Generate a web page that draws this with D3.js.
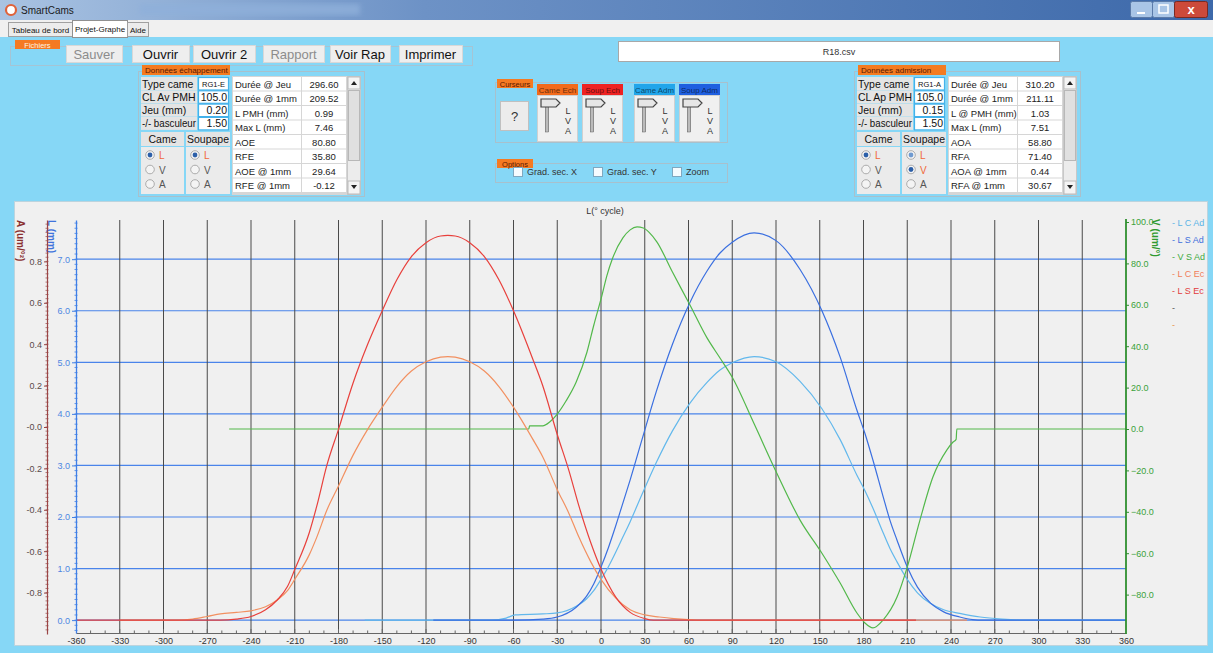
<!DOCTYPE html>
<html><head><meta charset="utf-8">
<script src="https://cdn.jsdelivr.net/npm/d3@7"></script>
<style>
body{margin:0;width:1213px;height:653px;overflow:hidden;background:#86d7f6}
svg{display:block}
text{font-family:"Liberation Sans",Arial,sans-serif}
</style></head><body>
<script>
// ---------------- DATA ----------------
const xTicks = [-360,-330,-300,-270,-240,-210,-180,-150,-120,-90,-60,-30,0,30,60,90,120,150,180,210,240,270,300,330,360];
const lTicks = [0,1,2,3,4,5,6,7];
const aTicks = [0.8,0.6,0.4,0.2,0,-0.2,-0.4,-0.6,-0.8];
const aTickLabels = ["0.8","0.6","0.4","0.2","-0.0","-0.2","-0.4","-0.6","-0.8"];
const vTicks = [100,80,60,40,20,0,-20,-40,-60,-80];

const seriesNames = ["L C Ad","L S Ad","V S Ad","L C Ec","L S Ec"];

// L S Ec : exhaust valve lift (mm)
const lsEc = [[-360,0],[-261,0],[-250,0.02],[-240,0.07],[-230,0.2],[-222,0.39],[-215,0.65],[-210,0.98],[-200,1.7],[-195,2.2],[-188,3.0],[-180,3.7],[-170,4.6],[-160,5.35],[-150,6.0],[-140,6.6],[-130,7.05],[-120,7.32],[-110,7.45],[-105,7.46],[-100,7.45],[-90,7.32],[-80,7.05],[-70,6.6],[-60,6.0],[-47,5.08],[-40,4.55],[-30,3.6],[-22,2.9],[-15,2.2],[-7,1.5],[0,0.99],[10,0.45],[20,0.15],[30,0.03],[36,0],[216,0]];
// L C Ec : exhaust cam lift (mm)
const lcEc = [[-330,0],[-290,0],[-280,0.02],[-270,0.07],[-261,0.12],[-250,0.15],[-240,0.18],[-230,0.26],[-222,0.39],[-215,0.57],[-210,0.79],[-200,1.27],[-195,1.6],[-188,2.13],[-180,2.6],[-170,3.2],[-160,3.7],[-150,4.13],[-140,4.53],[-130,4.83],[-120,5.01],[-110,5.1],[-105,5.11],[-100,5.1],[-90,5.01],[-80,4.83],[-70,4.53],[-60,4.13],[-47,3.52],[-40,3.17],[-30,2.53],[-22,2.07],[-15,1.6],[-7,1.13],[0,0.79],[10,0.43],[20,0.2],[30,0.1],[40,0.06],[50,0.03],[60,0.01],[70,0],[251,0]];
// L S Ad : intake valve lift (mm)
const lsAd = [[-115,0],[-58.8,0],[-40,0.02],[-30,0.06],[-17,0.25],[-10,0.46],[-5,0.7],[0,1.03],[5,1.4],[10,1.82],[15,2.27],[20,2.72],[28,3.49],[38,4.44],[49,5.35],[61,6.16],[72.7,6.77],[81.6,7.12],[90,7.33],[105,7.51],[120,7.36],[136.5,6.8],[151.5,6.0],[164,5.1],[175.5,4.07],[181,3.62],[186.5,3.1],[193.4,2.4],[198,1.95],[203,1.55],[210,1.03],[217,0.64],[226,0.33],[235,0.16],[246,0.06],[255,0.01],[262,0],[360,0]];
// L C Ad : intake cam lift (mm)
const lcAd = [[-162,0],[-75,0],[-65,0.04],[-58.8,0.1],[-40,0.12],[-30,0.14],[-17,0.27],[-10,0.41],[-5,0.57],[0,0.79],[5,1.03],[10,1.31],[15,1.61],[20,1.91],[28,2.43],[38,3.06],[49,3.67],[61,4.21],[72.7,4.61],[81.6,4.85],[90,4.99],[105,5.11],[120,5.01],[136.5,4.63],[151.5,4.1],[164,3.5],[175.5,2.81],[181,2.51],[186.5,2.17],[193.4,1.7],[198,1.4],[203,1.13],[210,0.79],[217,0.53],[226,0.32],[235,0.2],[246,0.13],[260,0.06],[275,0.02],[290,0],[360,0]];
// V S Ad : intake valve velocity (um/deg)
const vsAd = [[-255,0],[-49.5,0],[-49,1.5],[-40,1.5],[-35,3.5],[-30,7.2],[-24,13.5],[-17,22.7],[-9.6,37.2],[-5,50],[0.7,64.7],[4,74],[8,82.6],[15,92.3],[20,96.2],[24.7,97.6],[29,97.1],[33,95],[38.4,90.3],[49,75.8],[61,59.9],[72.7,44],[81.6,34.3],[90,25],[105,2.5],[120,-20.5],[136.5,-44],[151.5,-60],[164,-74.4],[175.5,-88.9],[181,-93.7],[186.5,-96.1],[193.4,-92.3],[203,-81.2],[210,-66.7],[218.7,-44],[227.6,-23.2],[237.2,-10.1],[241.4,-6.3],[243.5,-5],[244,0],[360,0]];

// UI texts / values
const exhParams = [["Type came","RG1-E"],["CL Av PMH","105.0"],["Jeu (mm)","0.20"],["-/- basculeur","1.50"]];
const exhRows = [["Durée @ Jeu","296.60"],["Durée @ 1mm","209.52"],["L PMH (mm)","0.99"],["Max L (mm)","7.46"],["AOE","80.80"],["RFE","35.80"],["AOE @ 1mm","29.64"],["RFE @ 1mm","-0.12"]];
const admParams = [["Type came","RG1-A"],["CL Ap PMH","105.0"],["Jeu (mm)","0.15"],["-/- basculeur","1.50"]];
const admRows = [["Durée @ Jeu","310.20"],["Durée @ 1mm","211.11"],["L @ PMH (mm)","1.03"],["Max L (mm)","7.51"],["AOA","58.80"],["RFA","71.40"],["AOA @ 1mm","0.44"],["RFA @ 1mm","30.67"]];
const buttons = [["Sauver",66,56,false],["Ouvrir",132,57,true],["Ouvrir 2",193,62,true],["Rapport",263,61,false],["Voir Rap",330,60,true],["Imprimer",399,63,true]];
const cursors = [["Came Ech","#f26a1b",537],["Soup Ech","#ee2222",582],["Came Adm","#21a5ea",634],["Soup Adm","#1f5fe0",679]];

// ---------------- DRAW ----------------
const svg = d3.select('body').append('svg').attr('width',1213).attr('height',653);
const defs = svg.append('defs');
const g1 = defs.append('linearGradient').attr('id','tb');
g1.append('stop').attr('offset','0%').attr('stop-color','#a9c3e2');
g1.append('stop').attr('offset','35%').attr('stop-color','#6d92c6');
g1.append('stop').attr('offset','100%').attr('stop-color','#3d69aa');
const g2 = defs.append('linearGradient').attr('id','pole').attr('x1','0').attr('x2','1');
g2.append('stop').attr('offset','0%').attr('stop-color','#777');
g2.append('stop').attr('offset','50%').attr('stop-color','#ddd');
g2.append('stop').attr('offset','100%').attr('stop-color','#777');
defs.append('filter').attr('id','blur').append('feGaussianBlur').attr('stdDeviation',2.5);

function R(x,y,w,h,fill,stroke,sw){return svg.append('rect').attr('x',x).attr('y',y).attr('width',w).attr('height',h).attr('fill',fill||'none').attr('stroke',stroke||'none').attr('stroke-width',sw||1);}
function T(x,y,s,size,fill,anchor,weight){return svg.append('text').attr('x',x).attr('y',y).text(s).attr('font-size',size).attr('fill',fill||'#111').attr('text-anchor',anchor||'start').attr('font-weight',weight||'normal');}
function fit(t,maxW){const w=t.node().getComputedTextLength(); if(w>maxW){t.attr('textLength',maxW).attr('lengthAdjust','spacingAndGlyphs');} return t;}

// title bar
R(0,0,1213,20,'url(#tb)');
svg.append('rect').attr('x',140).attr('y',4).attr('width',220).attr('height',11).attr('fill','#8fb0da').attr('opacity',0.8).attr('filter','url(#blur)');
svg.append('circle').attr('cx',11).attr('cy',10).attr('r',5).attr('fill','#fff').attr('stroke','#e0623a').attr('stroke-width',2.2);
T(21,14,'SmartCams',10,'#1a1a1a');
R(1130.5,1.5,22,16,'#a9c5e6','#5a7aa8').attr('rx',2);
R(1152.5,1.5,22,16,'#a9c5e6','#5a7aa8').attr('rx',2);
R(1174.5,1.5,33,16,'#cc4a3a','#7a2a22').attr('rx',2);
svg.append('line').attr('x1',1137).attr('x2',1145).attr('y1',13).attr('y2',13).attr('stroke','#fff').attr('stroke-width',2);
R(1159,5,9,8,'none','#fff',1.5);
T(1191,14,'x',13,'#fff','middle','bold');
// tab bar
R(0,20,1213,17,'#f0f0f0');
R(8.5,22.5,64,14,'#ececec','#a0a0a0');
fit(T(40.5,32.5,'Tableau de bord',8,'#111','middle'),60);
R(72.5,20.5,55,17,'#ffffff','#909090');
fit(T(100,32,'Projet-Graphe',8,'#111','middle'),52);
R(127.5,22.5,21,14,'#ececec','#a0a0a0');
T(138,32.5,'Aide',8,'#111','middle');

// Fichiers group
R(10.5,46.5,462,19,'none','#a5c4d4');
R(15,40,45,9,'#f57a22');
T(37.5,47.5,'Fichiers',7.5,'#fff5e0','middle');
buttons.forEach(b=>{
  R(b[1]+0.5,45.5,b[2],17,'#eeeeee','#d8d8d8');
  T(b[1]+b[2]/2,58.5,b[0],13,b[3]?'#111':'#8c8c8c','middle');
});
// file box
R(618.5,41.5,441,20,'#ffffff','#a8a8a8');
T(839,55,'R18.csv',9,'#333','middle');

// data panels
function dataPanel(ox, title, params, rows, cameSel, soupSel, soupLight){
  R(ox+138.5,71.5,226,125,'none','#a8c0cc');
  R(ox+142,65,88,10,'#f47b20');
  fit(T(ox+145,73,title,8,'#5a1800'),83);
  params.forEach((p,i)=>{
    const y = 77+i*13.3;
    R(ox+141,y,56,13,'#e4e4e4');
    fit(T(ox+142,y+10.5,p[0],10.5,'#111'),54);
    R(ox+198.5,y+0.5,30,12.5,'#ffffff','#45b2ea',1.2);
    if(i===0) T(ox+213.5,y+9.5,p[1],7.5,'#111','middle');
    else T(ox+227,y+10.5,p[1],10.5,'#111','end');
  });
  R(ox+141,132,43,14,'#e4e4e4'); T(ox+162.5,143,'Came',10.5,'#111','middle');
  R(ox+186,132,44,14,'#e4e4e4'); fit(T(ox+208,143,'Soupape',10.5,'#111','middle'),42);
  R(ox+141,147,43,47,'#ebebeb');
  R(ox+186,147,44,47,'#ebebeb');
  const letters = ['L','V','A'];
  [[ox+150,cameSel,-1],[ox+195,soupSel,soupLight]].forEach(col=>{
    letters.forEach((l,i)=>{
      const cy = 155+i*14.5;
      svg.append('circle').attr('cx',col[0]).attr('cy',cy).attr('r',4.3).attr('fill','#f4f4f4').attr('stroke','#9a9a9a').attr('stroke-width',0.8);
      if(i===col[1]) svg.append('circle').attr('cx',col[0]).attr('cy',cy).attr('r',2.4).attr('fill','#2c5fa8');
      if(i===col[2]) svg.append('circle').attr('cx',col[0]).attr('cy',cy).attr('r',2.4).attr('fill','#6f9ad0');
      const orange = (i===col[1]) || (i===col[2]);
      T(col[0]+9,cy+4,l,10,orange?'#f0683a':'#555');
    });
  });
  R(ox+232,76,115,119,'#d6d6d6');
  rows.forEach((r,i)=>{
    const y = 77+i*14.5;
    R(ox+233,y,68,13.5,'#ffffff');
    R(ox+302,y,44,13.5,'#ffffff');
    T(ox+235,y+10.5,r[0],9.5,'#222');
    T(ox+324,y+10.5,r[1],9.5,'#222','middle');
  });
  R(ox+347.5,76.5,13,118,'#ececec','#c8c8c8');
  R(ox+348,77,12,12,'#f4f4f4','#bbb');
  R(ox+348,181,12,13,'#f4f4f4','#bbb');
  R(ox+348.5,90.5,11,70,'#e0e0e0','#b8b8b8');
  svg.append('path').attr('d',`M${ox+351},${85}l3,-4l3,4z`).attr('fill','#222');
  svg.append('path').attr('d',`M${ox+351},${185}l3,4l3,-4z`).attr('fill','#222');
}
dataPanel(0,'Données échappement',exhParams,exhRows,0,0,-1);
dataPanel(716,'Données admission',admParams,admRows,0,1,0);

// Curseurs panel
R(495.5,82.5,232,60,'none','#a8c0cc');
R(497,79,36,9,'#f57a22');
T(515,86.5,'Curseurs',7.5,'#5a1800','middle');
R(500.5,101.5,28,29,'#ececec','#c0c0c0');
T(514.5,121,'?',13,'#333','middle');
cursors.forEach(c=>{
  const x0 = c[2];
  R(x0,84,41,11,c[1]);
  fit(T(x0+20.5,92.5,c[0],8,'rgba(0,0,0,0.6)','middle'),39);
  R(x0+0.5,95.5,40,46,'#f0f0f0','#d0d0d0');
  svg.append('rect').attr('x',x0+8.5).attr('y',105).attr('width',3).attr('height',27).attr('fill','url(#pole)').attr('stroke','#666').attr('stroke-width',0.5);
  svg.append('path').attr('d',`M${x0+4},${99}h15l4,4l-4,4h-15z`).attr('fill','#e6e6e6').attr('stroke','#444').attr('stroke-width',1.2);
  ['L','V','A'].forEach((l,i)=>T(x0+31,114+i*10,l,9,'#333','middle'));
});
// Options panel
R(495.5,163.5,232,19,'none','#a8c0cc');
R(497,159,36,9,'#f57a22');
T(515,166.5,'Options',7.5,'#5a1800','middle');
[[513,'Grad. sec. X'],[593,'Grad. sec. Y'],[672,'Zoom']].forEach(o=>{
  R(o[0]+0.5,167.5,9,9,'#f4fbff','#7fa8c0');
  T(o[0]+14,175,o[1],9,'#333');
});

// ---------------- CHART ----------------
R(14.5,201.5,1193,444,'#f0f0f0','#bcd4de');

const x = d3.scaleLinear([-360,360],[76,1126]);
const yL = d3.scaleLinear([-0.25,7.76],[633,220]);
const yA = d3.scaleLinear([-1,1],[634,220]);
const yV = d3.scaleLinear([-100,100],[636,222]);

const cBlue = '#3f7fe6';
// horizontal grid
svg.append('g').selectAll('line').data(lTicks).join('line')
  .attr('x1',x(-360)).attr('x2',x(360)).attr('y1',d=>yL(d)).attr('y2',d=>yL(d))
  .attr('stroke','#4a84ea').attr('stroke-width',1.2);
// vertical grid
svg.append('g').selectAll('line').data(xTicks.filter(d=>d>-360&&d<360)).join('line')
  .attr('x1',d=>x(d)).attr('x2',d=>x(d)).attr('y1',220).attr('y2',633)
  .attr('stroke','#4a4a4a').attr('stroke-width',1);

// title
T(605,214,'L(° cycle)',9,'#333','middle');

// curves
const lineL = d3.line().x(d=>x(d[0])).y(d=>yL(d[1])).curve(d3.curveMonotoneX);
const lineV = d3.line().x(d=>x(d[0])).y(d=>yV(d[1])).curve(d3.curveMonotoneX);
const curves = [[lcAd,lineL,'#62b8ec'],[lsAd,lineL,'#3a6fe0'],[vsAd,lineV,'#52b84a'],[lcEc,lineL,'#f29060'],[lsEc,lineL,'#e8403c']];
curves.forEach(c=>svg.append('path').attr('d',c[1](c[0])).attr('fill','none').attr('stroke',c[2]).attr('stroke-width',1.2));

// x axis
const gx = svg.append('g').attr('transform','translate(0,633)')
  .call(d3.axisBottom(x).tickValues(xTicks).tickSize(0).tickPadding(5).tickFormat(d=>d));
gx.select('.domain').attr('stroke','#666');
gx.selectAll('text').attr('font-size',9).attr('fill','#333').attr('font-family','"Liberation Sans",Arial');
svg.append('g').selectAll('line').data(d3.range(-350,360,10)).join('line')
  .attr('x1',d=>x(d)).attr('x2',d=>x(d)).attr('y1',633).attr('y2',d=>d%30===0?629:630.5).attr('stroke','#666');

// L axis
const gL = svg.append('g').attr('transform','translate(76,0)')
  .call(d3.axisLeft(yL).tickValues(lTicks).tickSize(4).tickPadding(2).tickSizeOuter(0).tickFormat(d3.format('.1f')));
gL.select('.domain').attr('stroke',cBlue).attr('stroke-width',1.3);
gL.selectAll('.tick line').attr('stroke',cBlue);
gL.selectAll('text').attr('font-size',9).attr('fill','#4d86e2').attr('font-family','"Liberation Sans",Arial');
svg.append('g').selectAll('line').data(d3.range(-0.2,7.75,0.1)).join('line')
  .attr('x1',74.5).attr('x2',77.5).attr('y1',d=>yL(d)).attr('y2',d=>yL(d)).attr('stroke',cBlue).attr('stroke-width',0.8);
svg.append('text').attr('transform','translate(48,220) rotate(90)').text('L (mm)')
  .attr('font-size',10).attr('font-weight','bold').attr('fill','#3f74dc');

// A axis
const cA = '#9a4545';
const gA = svg.append('g').attr('transform','translate(47,0)')
  .call(d3.axisLeft(yA).tickValues(aTicks).tickSize(3).tickPadding(2).tickSizeOuter(0).tickFormat((d,i)=>aTickLabels[i]));
gA.select('.domain').attr('stroke',cA).attr('stroke-width',1.2);
gA.selectAll('.tick line').attr('stroke',cA);
gA.selectAll('text').attr('font-size',9).attr('fill','#5a4a4a').attr('font-family','"Liberation Sans",Arial');
svg.append('g').selectAll('line').data(d3.range(-0.98,1.0,0.02)).join('line')
  .attr('x1',45.5).attr('x2',48.5).attr('y1',d=>yA(d)).attr('y2',d=>yA(d)).attr('stroke',cA).attr('stroke-width',0.7);
svg.append('text').attr('transform','translate(17,220) rotate(90)').text('A (um/°²)')
  .attr('font-size',10).attr('font-weight','bold').attr('fill','#8a3030');

// V axis
const cV = '#2f8f2f';
const gV = svg.append('g').attr('transform','translate(1126,0)')
  .call(d3.axisRight(yV).tickValues(vTicks).tickSize(3).tickPadding(2).tickSizeOuter(0).tickFormat(d3.format('.1f')));
gV.select('.domain').attr('stroke',cV).attr('stroke-width',1.8).attr('d','M0,219V634');
gV.selectAll('.tick line').attr('stroke',cV);
gV.selectAll('text').attr('font-size',9).attr('fill','#3aa23a').attr('font-family','"Liberation Sans",Arial');
svg.append('text').attr('transform','translate(1152,219) rotate(90)').text('V (um/°)')
  .attr('font-size',10).attr('font-weight','bold').attr('fill','#2f9a2f');

// legend
const legColors = ['#5ab4e6','#3d6fdc','#3faa3f','#f07e5a','#e23c3c'];
seriesNames.forEach((n,i)=>T(1172,226+i*17,'- '+n,9,legColors[i]));
T(1172,311,'-',9,'#555');
T(1172,328,'-',9,'#e8904a');
</script>
</body></html>
